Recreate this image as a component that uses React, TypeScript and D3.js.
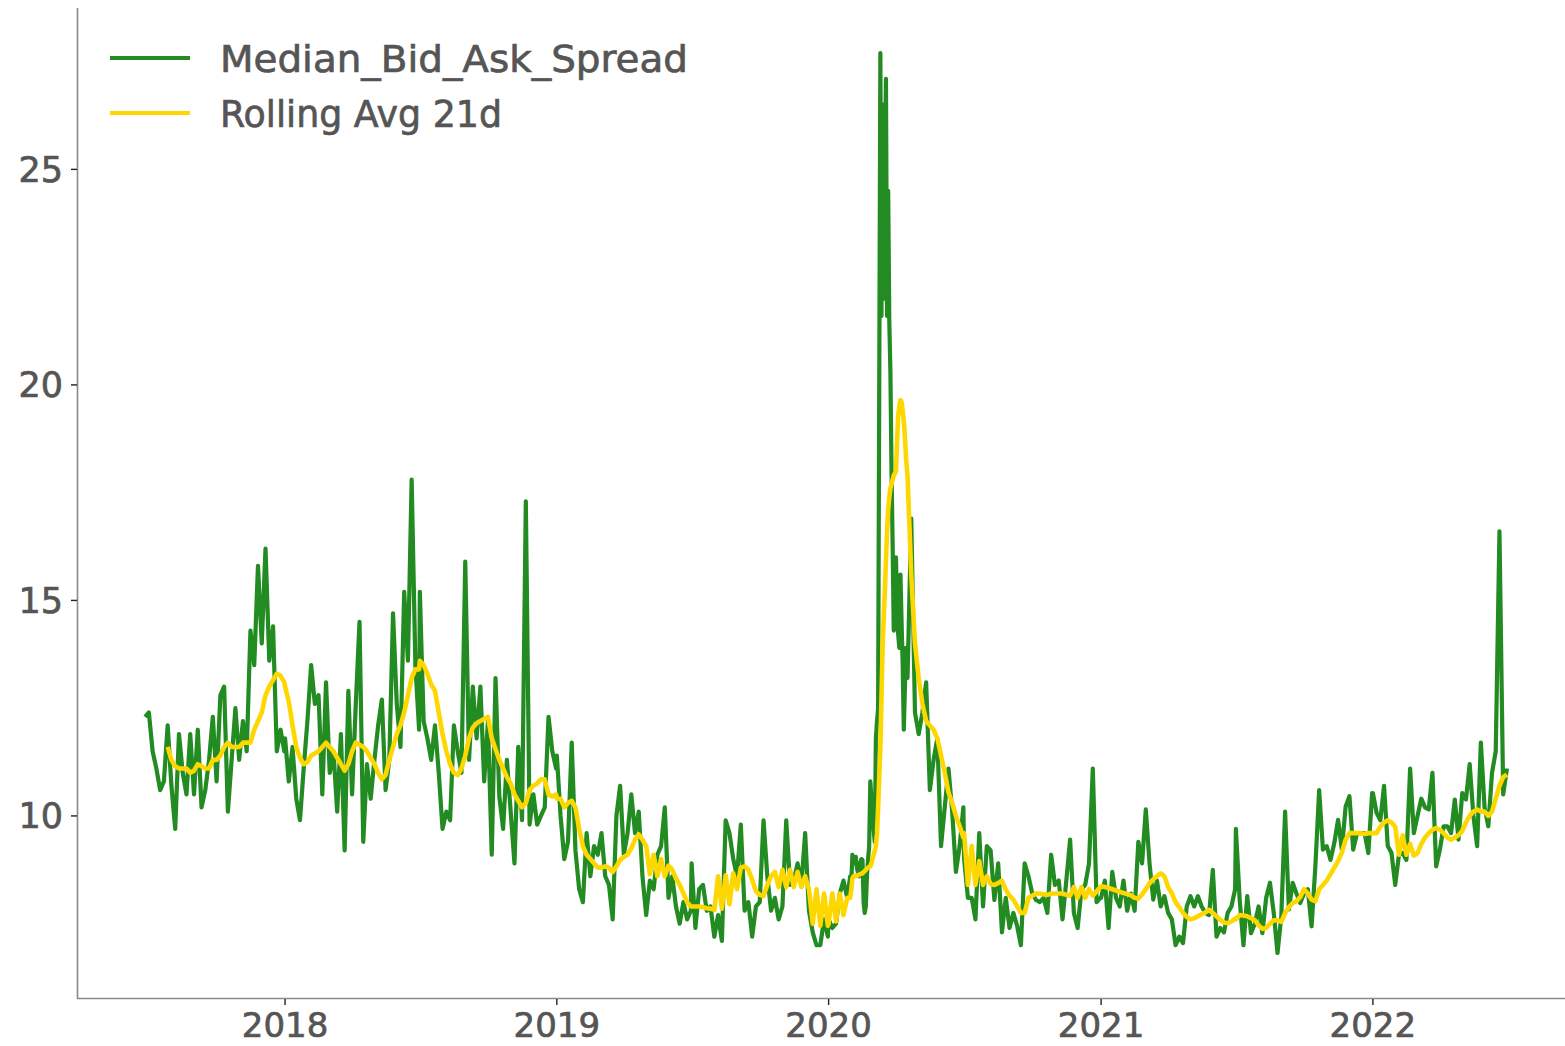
import React from 'react';
import * as d3 from 'd3';

// ---------- data ----------
const seriesNames = ['Median_Bid_Ask_Spread', 'Rolling Avg 21d'];
const yearTicks = [2018, 2019, 2020, 2021, 2022];
const valueTicks = [10, 15, 20, 25];

// period covered by each block of values: [first date, last date]
const chunkPeriods: [string, string][] = [
  ['2017-06-27', '2017-12-31'],
  ['2018-01-01', '2018-06-30'],
  ['2018-07-01', '2018-12-31'],
  ['2019-01-01', '2019-06-30'],
  ['2019-07-01', '2019-12-31'],
  ['2020-01-01', '2020-01-26'],
  ['2020-01-30', '2020-04-14'],
  ['2020-04-16', '2020-06-30'],
  ['2020-07-01', '2020-12-31'],
  ['2021-01-01', '2021-06-30'],
  ['2021-07-01', '2021-12-31'],
  ['2022-01-01', '2022-06-30'],
];

const spread2017H2 = [12.3, 12.4, 11.5, 11.1, 10.6, 10.8, 12.1, 10.7, 9.7, 11.9, 11.0, 10.5, 11.9, 10.5, 12.0, 10.2, 10.6, 11.3, 12.3, 10.8, 12.8, 13.0, 10.1, 11.3, 12.5, 11.3, 12.2, 11.5, 14.3, 13.5, 15.8, 14.0, 16.2, 13.6, 14.4, 11.5, 12.0, 11.5];
const spread2018H1 = [11.8, 10.8, 11.6, 10.4, 9.9, 11.1, 12.2, 13.5, 12.6, 12.8, 10.5, 13.1, 11.0, 11.5, 10.1, 11.9, 9.2, 12.9, 10.5, 12.6, 14.5, 9.4, 11.2, 10.4, 11.3, 12.1, 12.7, 10.6, 11.3, 14.7, 12.6, 11.6, 15.2, 13.6, 17.8, 13.5, 12.0];
const spread2018H2 = [15.2, 12.2, 11.8, 11.3, 12.1, 11.0, 9.7, 10.1, 9.9, 12.1, 11.5, 11.0, 15.9, 11.3, 13.0, 11.8, 13.0, 10.8, 12.2, 9.1, 13.2, 10.45, 9.7, 11.3, 10.1, 8.9, 11.6, 9.9, 17.3, 9.8, 10.5, 9.8, 10.0, 10.2, 12.3, 11.5, 11.1];
const spread2019H1 = [11.4, 10.0, 9.0, 9.4, 11.7, 9.2, 8.3, 8.0, 9.6, 8.6, 9.3, 9.1, 9.6, 8.6, 8.4, 7.6, 10.0, 10.7, 9.1, 9.6, 10.5, 9.6, 10.1, 8.6, 7.7, 8.5, 8.3, 9.1, 9.3, 10.2, 8.1, 8.6, 7.9, 7.5, 8.0, 7.6, 7.8];
const spread2019H2 = [8.9, 7.4, 8.3, 8.4, 7.8, 7.9, 7.2, 7.7, 7.1, 9.9, 9.6, 9.0, 8.6, 9.8, 7.8, 8.0, 7.2, 7.9, 8.0, 9.9, 8.6, 7.8, 8.1, 7.6, 7.9, 9.9, 8.4, 8.5, 8.9, 8.4, 9.6, 7.8, 7.3, 7.0, 7.0, 7.6, 7.2];
const spread2020Jan = [7.6, 7.4, 7.5, 8.2, 8.5, 8.1];
const spread2020Covid = [8.6, 8.5, 9.1, 8.9, 8.9, 9.05, 8.8, 8.67, 8.6, 8.9, 9.0, 8.98, 8.0, 7.75, 7.9, 8.6, 9.0, 9.3, 10.8, 10.4, 10.07, 9.7, 9.4, 11.8, 12.2, 12.5, 20.0, 27.7, 21.6, 26.5, 22.0, 25.0, 27.1, 21.6, 24.5, 21.5, 20.3, 18.0, 16.3, 14.3, 15.0, 16.0, 14.7, 14.2, 13.9, 15.6, 14.5, 13.5, 12.0, 13.0, 13.9];
const spread2020Spring = [13.2, 16.9, 12.4, 11.9, 12.4, 13.1, 10.6, 11.3, 11.8, 9.3, 10.2, 11.1, 10.1, 8.7, 9.3, 10.2];
const spread2020H2 = [9.0, 8.1, 8.1, 7.6, 9.6, 7.9, 9.3, 9.2, 8.05, 8.9, 7.3, 8.1, 7.4, 7.75, 7.45, 7.0, 8.9, 8.6, 8.2, 8.05, 8.0, 8.1, 7.75, 9.1, 8.4, 8.5, 7.6, 8.5, 9.45, 7.75, 7.4, 8.3, 8.4, 8.9, 11.1, 8.0, 8.1];
const spread2021H1 = [8.1, 8.5, 7.4, 8.7, 8.1, 7.9, 8.5, 7.8, 8.2, 7.8, 9.4, 8.9, 10.15, 8.9, 8.06, 8.5, 7.9, 8.14, 7.75, 7.6, 7.0, 7.2, 7.05, 7.9, 8.14, 7.9, 8.14, 7.9, 7.75, 7.7, 8.75, 7.2, 7.4, 7.3, 7.75, 7.9, 8.3];
const spread2021H2 = [9.7, 8.06, 7.0, 8.14, 7.28, 7.5, 7.9, 7.28, 8.1, 8.45, 7.75, 6.82, 7.67, 10.1, 7.83, 8.45, 8.2, 7.98, 8.2, 8.3, 7.44, 8.83, 10.6, 9.22, 9.3, 8.98, 9.37, 9.91, 9.22, 10.22, 10.46, 9.22, 9.6, 9.6, 9.6, 9.14, 10.53];
const spread2022H1 = [10.53, 10.07, 9.9, 10.7, 9.3, 9.14, 8.4, 9.1, 9.14, 8.98, 11.1, 9.6, 10.0, 10.4, 10.2, 10.15, 11.0, 8.83, 9.22, 9.76, 9.76, 9.6, 10.38, 9.45, 10.53, 10.38, 11.2, 10.0, 9.3, 11.7, 10.2, 9.76, 11.0, 11.5, 16.6, 10.5, 11.1];

const rolling2017H2 = [null, null, null, null, null, null, 11.6, 11.3, 11.15, 11.1, 11.1, 11.1, 11.0, 11.05, 11.2, 11.15, 11.1, 11.1, 11.3, 11.3, 11.4, 11.6, 11.7, 11.6, 11.6, 11.6, 11.7, 11.7, 11.7, 12.0, 12.2, 12.4, 12.8, 13.0, 13.15, 13.3, 13.25, 13.1];
const rolling2018H1 = [13.0, 12.65, 12.1, 11.6, 11.35, 11.2, 11.25, 11.4, 11.45, 11.5, 11.6, 11.7, 11.6, 11.5, 11.35, 11.2, 11.05, 11.2, 11.5, 11.7, 11.65, 11.6, 11.5, 11.35, 11.2, 11.0, 10.85, 10.95, 11.3, 11.6, 11.9, 12.1, 12.4, 12.8, 13.2, 13.4, 13.4];
const rolling2018H2 = [13.6, 13.5, 13.3, 13.05, 12.9, 12.4, 11.9, 11.5, 11.2, 11.0, 10.95, 11.1, 11.4, 11.8, 12.05, 12.15, 12.2, 12.25, 12.3, 11.8, 11.55, 11.3, 11.1, 10.9, 10.75, 10.5, 10.35, 10.2, 10.3, 10.6, 10.7, 10.75, 10.85, 10.85, 10.5, 10.45, 10.5];
const rolling2019H1 = [10.4, 10.4, 10.2, 10.3, 10.35, 10.2, 9.7, 9.3, 9.1, 9.0, 8.9, 8.8, 8.8, 8.83, 8.8, 8.7, 8.83, 8.98, 9.05, 9.1, 9.25, 9.45, 9.57, 9.45, 9.3, 8.65, 9.1, 8.6, 9.0, 8.6, 8.85, 8.75, 8.55, 8.4, 8.2, 8.0, 7.9];
const rolling2019H2 = [7.9, 7.9, 7.9, 7.88, 7.86, 7.85, 7.82, 8.6, 7.85, 8.62, 7.95, 8.67, 8.3, 8.8, 8.83, 8.75, 8.52, 8.25, 8.17, 8.14, 8.4, 8.6, 8.7, 8.35, 8.75, 8.35, 8.75, 8.35, 8.7, 8.35, 8.6, 8.3, 7.5, 8.3, 7.45, 8.2, 7.45];
const rolling2020Jan = [7.5, 8.2, 7.55, 8.2, 7.7, 8.1];
const rolling2020Covid = [8.1, 8.3, 8.55, 8.6, 8.6, 8.6, 8.62, 8.62, 8.64, 8.65, 8.66, 8.67, 8.7, 8.72, 8.75, 8.78, 8.8, 8.82, 8.83, 8.9, 9.0, 9.1, 9.2, 9.3, 9.6, 10.2, 10.9, 11.6, 12.7, 13.9, 14.6, 15.2, 15.9, 16.6, 17.1, 17.4, 17.6, 17.7, 17.8, 17.9, 17.95, 18.0, 18.7, 19.3, 19.5, 19.65, 19.6, 19.4, 19.15, 18.8, 18.3];
const rolling2020Spring = [17.9, 15.6, 14.0, 13.2, 12.6, 12.2, 12.1, 12.0, 11.8, 11.4, 11.0, 10.55, 10.3, 10.0, 9.76, 9.5];
const rolling2020H2 = [9.6, 8.4, 9.3, 8.4, 8.95, 8.4, 8.6, 8.42, 8.4, 8.44, 8.5, 8.29, 8.15, 8.06, 7.9, 7.75, 7.75, 8.1, 8.15, 8.2, 8.2, 8.18, 8.17, 8.2, 8.2, 8.2, 8.2, 8.17, 8.15, 8.35, 8.1, 8.35, 8.1, 8.3, 8.15, 8.25, 8.35];
const rolling2021H1 = [8.37, 8.35, 8.33, 8.3, 8.27, 8.24, 8.21, 8.19, 8.16, 8.1, 8.08, 8.18, 8.3, 8.44, 8.53, 8.6, 8.67, 8.6, 8.35, 8.2, 8.0, 7.88, 7.75, 7.66, 7.6, 7.63, 7.67, 7.72, 7.76, 7.82, 7.75, 7.67, 7.59, 7.53, 7.51, 7.55, 7.62];
const rolling2021H2 = [7.6, 7.7, 7.69, 7.67, 7.63, 7.58, 7.46, 7.38, 7.4, 7.5, 7.58, 7.58, 7.54, 7.75, 7.88, 7.98, 8.02, 8.12, 8.3, 8.2, 8.06, 8.02, 8.3, 8.4, 8.5, 8.65, 8.8, 8.95, 9.15, 9.45, 9.6, 9.6, 9.6, 9.6, 9.58, 9.6, 9.6];
const rolling2022H1 = [9.6, 9.6, 9.75, 9.85, 9.9, 9.85, 9.75, 9.1, 9.55, 9.1, 9.35, 9.08, 9.14, 9.35, 9.5, 9.6, 9.68, 9.72, 9.68, 9.6, 9.5, 9.45, 9.5, 9.55, 9.65, 9.85, 10.0, 10.1, 10.15, 10.1, 10.1, 10.0, 10.1, 10.4, 10.7, 10.9, 10.96];

const spreadChunks = [spread2017H2, spread2018H1, spread2018H2, spread2019H1, spread2019H2, spread2020Jan, spread2020Covid, spread2020Spring, spread2020H2, spread2021H1, spread2021H2, spread2022H1];
const rollingChunks = [rolling2017H2, rolling2018H1, rolling2018H2, rolling2019H1, rolling2019H2, rolling2020Jan, rolling2020Covid, rolling2020Spring, rolling2020H2, rolling2021H1, rolling2021H2, rolling2022H1];

type Pt = { date: Date; value: number | null };

function buildSeries(chunks: (number | null)[][]): Pt[] {
  const out: Pt[] = [];
  chunks.forEach((vals, ci) => {
    const [s, e] = chunkPeriods[ci];
    const t0 = Date.parse(s + 'T00:00:00Z');
    const t1 = Date.parse(e + 'T00:00:00Z');
    const n = vals.length;
    vals.forEach((v, i) => {
      const t = n > 1 ? t0 + ((t1 - t0) * i) / (n - 1) : t0;
      out.push({ date: new Date(t), value: v });
    });
  });
  return out;
}

const FONT = "'DejaVu Sans', sans-serif";
const TEXT = '#555555';
const GREEN = '#228B22';
const GOLD = '#FFD700';

export default function App() {
  const W = 1565;
  const H = 1046;
  const left = 77;
  const right = 1575;
  const top = 8;
  const bottom = 998;

  const spread = buildSeries(spreadChunks);
  const rolling = buildSeries(rollingChunks);

  const [tMin, tMax] = d3.extent(spread, (d) => +d.date) as [number, number];
  const tPad = (tMax - tMin) * 0.05;
  const x = d3.scaleUtc().domain([new Date(tMin - tPad), new Date(tMax + tPad)]).range([left, right]);

  const [vMin, vMax] = d3.extent(spread, (d) => d.value as number) as [number, number];
  const vPad = (vMax - vMin) * 0.05;
  const y = d3.scaleLinear().domain([vMin - vPad, vMax + vPad]).range([bottom, top]);

  const line = d3
    .line<Pt>()
    .defined((d) => d.value != null)
    .x((d) => x(d.date))
    .y((d) => y(d.value as number));

  const legendItems = [
    { name: seriesNames[0], color: GREEN, cy: 58, len: 468 },
    { name: seriesNames[1], color: GOLD, cy: 113, len: 282 },
  ];

  const textStyle = { paintOrder: 'stroke' as const };

  return (
    <div style={{ position: 'absolute', left: 0, top: 0 }}>
      <svg width={W} height={H} style={{ display: 'block', background: '#ffffff' }}>
        {/* series */}
        <path d={line(spread) || ''} fill="none" stroke={GREEN} strokeWidth={4.2} strokeLinejoin="round" strokeLinecap="butt" />
        <path d={line(rolling) || ''} fill="none" stroke={GOLD} strokeWidth={4.6} strokeLinejoin="round" strokeLinecap="butt" />

        {/* spines */}
        <line x1={left + 0.5} x2={left + 0.5} y1={top} y2={bottom + 1} stroke="#8a8a8a" strokeWidth={1.6} />
        <line x1={left} x2={W} y1={bottom + 0.5} y2={bottom + 0.5} stroke="#8a8a8a" strokeWidth={1.6} />

        {/* y ticks */}
        {valueTicks.map((t) => (
          <g key={'y' + t}>
            <line x1={left - 6} x2={left} y1={y(t)} y2={y(t)} stroke="#222" strokeWidth={1.4} />
            <text x={63} y={y(t) + 12.5} textAnchor="end" fontFamily={FONT} fontSize={35} fill={TEXT} stroke={TEXT} strokeWidth={0.7} style={textStyle}>
              {t}
            </text>
          </g>
        ))}

        {/* x ticks */}
        {yearTicks.map((yr) => {
          const px = x(new Date(Date.UTC(yr, 0, 1)));
          return (
            <g key={'x' + yr}>
              <line x1={px} x2={px} y1={bottom + 1} y2={bottom + 7} stroke="#222" strokeWidth={1.4} />
              <text x={px} y={1037} textAnchor="middle" fontFamily={FONT} fontSize={34} fill={TEXT} stroke={TEXT} strokeWidth={0.7} style={textStyle}>
                {yr}
              </text>
            </g>
          );
        })}

        {/* legend */}
        {legendItems.map((it) => (
          <g key={it.name}>
            <line x1={110} x2={190} y1={it.cy} y2={it.cy} stroke={it.color} strokeWidth={4} />
            <text
              x={220}
              y={it.cy + 14}
              fontFamily={FONT}
              fontSize={38}
              fill={TEXT}
              stroke={TEXT}
              strokeWidth={0.7}
              style={textStyle}
              textLength={it.len}
              lengthAdjust="spacingAndGlyphs"
            >
              {it.name}
            </text>
          </g>
        ))}
      </svg>
    </div>
  );
}
